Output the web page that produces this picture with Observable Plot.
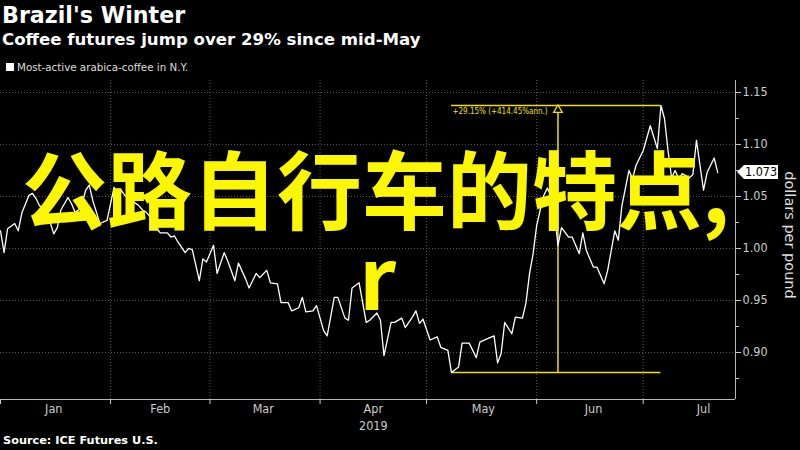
<!DOCTYPE html>
<html><head><meta charset="utf-8">
<script src="https://cdn.jsdelivr.net/npm/d3@7"></script>
<script src="https://cdn.jsdelivr.net/npm/@observablehq/plot@0.6"></script>
<style>
html,body{margin:0;padding:0;background:#000;}
body{width:800px;height:450px;overflow:hidden;position:relative;font-family:"DejaVu Sans",sans-serif;color:#fff}
#title{position:absolute;left:2px;top:2px;font-weight:bold;font-size:22.2px;line-height:26px;white-space:nowrap}
#subtitle{position:absolute;left:2px;top:30px;font-weight:bold;font-size:16.6px;line-height:20px;white-space:nowrap}
#legend{position:absolute;left:6px;top:60px;font-family:"DejaVu Sans",sans-serif;font-size:10.3px;line-height:14px;color:#ddd;white-space:nowrap}
#legend .sw{display:inline-block;width:8px;height:8px;background:#fff;margin-right:3px;vertical-align:-0px}
#chart{position:absolute;left:0;top:80px}
#source{position:absolute;left:3px;top:434px;font-family:"DejaVu Sans",sans-serif;font-weight:bold;font-size:11.3px;line-height:14px;color:#fff;white-space:nowrap}
#overlay{position:absolute;left:0;top:0;pointer-events:none}
</style></head><body>
<div id="title">Brazil's Winter</div>
<div id="subtitle">Coffee futures jump over 29% since mid-May</div>
<div id="legend"><span class="sw"></span>Most-active arabica-coffee in N.Y.</div>
<div id="chart"></div>
<div id="source">Source: ICE Futures U.S.</div>
<svg id="overlay" width="800" height="450">
  <text x="22" y="223" font-family="'Noto Sans CJK SC',sans-serif" font-weight="bold" font-size="85" fill="#fbf700">公路自行车的特点,</text>
  <text x="359" y="310" font-family="'Noto Sans CJK SC',sans-serif" font-weight="bold" font-size="85" fill="#fbf700">r</text>
</svg>
<script>
// ---- data ----
const dates = ["2019-01-01","2019-01-02","2019-01-03","2019-01-05","2019-01-06","2019-01-07","2019-01-09","2019-01-10","2019-01-11","2019-01-12","2019-01-14","2019-01-15","2019-01-16","2019-01-17","2019-01-18","2019-01-20","2019-01-21","2019-01-22","2019-01-23","2019-01-24","2019-01-25","2019-01-26","2019-01-27","2019-01-29","2019-01-31",
"2019-02-01","2019-02-02","2019-02-03","2019-02-04","2019-02-05","2019-02-07","2019-02-09","2019-02-10","2019-02-11","2019-02-13","2019-02-14","2019-02-15","2019-02-17","2019-02-18","2019-02-19","2019-02-20","2019-02-22","2019-02-23","2019-02-24","2019-02-26","2019-02-27","2019-02-28",
"2019-03-02","2019-03-03","2019-03-05","2019-03-06","2019-03-08","2019-03-09","2019-03-11","2019-03-12","2019-03-14","2019-03-15","2019-03-17","2019-03-18","2019-03-20","2019-03-21","2019-03-23","2019-03-24","2019-03-26","2019-03-27","2019-03-28","2019-03-30","2019-03-31",
"2019-04-02","2019-04-03","2019-04-05","2019-04-06","2019-04-08","2019-04-09","2019-04-10","2019-04-12","2019-04-14","2019-04-15","2019-04-17","2019-04-18","2019-04-19","2019-04-21","2019-04-22","2019-04-24","2019-04-25","2019-04-27","2019-04-28","2019-04-29","2019-04-30",
"2019-05-02","2019-05-04","2019-05-05","2019-05-07","2019-05-08","2019-05-10","2019-05-11","2019-05-13","2019-05-15","2019-05-16","2019-05-18","2019-05-20","2019-05-21","2019-05-22","2019-05-23","2019-05-25","2019-05-26","2019-05-28","2019-05-29","2019-05-30","2019-05-31",
"2019-06-01","2019-06-02","2019-06-03","2019-06-04","2019-06-05","2019-06-06","2019-06-07","2019-06-08","2019-06-10","2019-06-11","2019-06-13","2019-06-14","2019-06-15","2019-06-17","2019-06-18","2019-06-20","2019-06-21","2019-06-23","2019-06-24","2019-06-25","2019-06-27","2019-06-28","2019-06-29",
"2019-07-01","2019-07-02","2019-07-03","2019-07-05","2019-07-06","2019-07-07","2019-07-08","2019-07-09","2019-07-10","2019-07-11","2019-07-12","2019-07-14","2019-07-15","2019-07-16","2019-07-18","2019-07-19","2019-07-21","2019-07-22"];
const prices = [1.017,0.996,1.019,1.024,1.017,1.034,1.051,1.053,1.048,1.041,1.038,1.025,1.014,1.020,1.037,1.049,1.043,1.035,1.037,1.044,1.056,1.061,1.046,1.024,1.027,
1.043,1.059,1.043,1.056,1.051,1.046,1.041,1.037,1.035,1.027,1.019,1.015,1.015,1.011,1.012,1.006,0.996,1.000,0.999,0.969,0.990,0.987,
1.003,0.976,0.996,0.988,0.969,0.986,0.971,0.962,0.976,0.972,0.979,0.967,0.966,0.948,0.948,0.940,0.943,0.953,0.939,0.940,0.945,
0.921,0.916,0.953,0.953,0.933,0.931,0.962,0.967,0.929,0.931,0.938,0.931,0.897,0.929,0.929,0.933,0.924,0.934,0.940,0.928,0.932,
0.912,0.915,0.905,0.902,0.8808,0.886,0.909,0.909,0.895,0.910,0.913,0.916,0.890,0.899,0.929,0.918,0.934,0.933,0.948,0.976,0.995,
1.022,1.037,1.051,1.058,1.051,1.035,1.003,1.020,1.011,1.011,0.995,1.015,0.998,0.982,0.982,0.966,0.979,1.017,1.008,1.041,1.075,1.067,1.080,
1.094,1.106,1.118,1.096,1.1375,1.125,1.094,1.068,1.075,1.067,1.072,1.068,1.071,1.104,1.056,1.073,1.087,1.073];

const yTicks = [0.90, 0.95, 1.00, 1.05, 1.10, 1.15];
const yMinorTicks = [0.875, 0.925, 0.975, 1.025, 1.075, 1.125];
const monthStarts = ["2019-01-01","2019-02-01","2019-03-01","2019-04-01","2019-05-01","2019-06-01","2019-07-01"];
const monthLabelDates = ["2019-01-16","2019-02-15","2019-03-16","2019-04-16","2019-05-17","2019-06-17","2019-07-18"];
const yearLabel = {date: "2019-04-16", text: "2019"};
const xDomain = ["2019-01-01", "2019-07-27"];
const yDomain = [0.8548, 1.1615];
const lowPoint = {date: "2019-05-08", value: 0.8808};
const highPoint = {date: "2019-07-06", value: 1.1375};
const markerDate = "2019-06-07";
const changeLabel = "+29.15% (+414.45%ann.)";
const yLabel = "dollars per pound";

// ---- build ----
const P = d => new Date(d + "T00:00:00Z");
const series = dates.map((d, i) => ({date: P(d), value: prices[i]}));
const yellow = "#f2e000";
const gridColor = "#5a5a5a";
const axisColor = "#b8b8b8";
const tickFont = "'Liberation Sans Narrow','DejaVu Sans Condensed',sans-serif";
const xEnd = P(xDomain[1]);

const chart = Plot.plot({
  width: 800,
  height: 352,
  marginLeft: 0,
  marginRight: 65,
  marginTop: 0,
  marginBottom: 33,
  style: {background: "#000", color: "#ccc", fontFamily: tickFont, overflow: "visible"},
  x: {type: "utc", domain: xDomain.map(P)},
  y: {domain: yDomain},
  marks: [
    Plot.gridY(yTicks, {stroke: gridColor, strokeOpacity: 1, strokeDasharray: "1,2"}),
    Plot.gridX(monthStarts.slice(1).map(P), {stroke: gridColor, strokeOpacity: 1, strokeDasharray: "1,2"}),
    Plot.ruleX([xEnd], {stroke: axisColor, strokeWidth: 1}),
    Plot.ruleY([yDomain[0]], {stroke: axisColor, strokeWidth: 1}),
    Plot.axisY({anchor: "right", ticks: yTicks, tickFormat: ".2f", tickSize: 5, tickPadding: 2, fontSize: 12.5, color: "#ccc", label: null}),
    Plot.axisY({anchor: "right", ticks: yMinorTicks, tickFormat: () => "", tickSize: 3, color: "#ccc", label: null}),
    Plot.axisX({ticks: monthStarts.map(P), tickFormat: () => "", tickSize: 5, color: "#ccc", label: null}),
    Plot.axisX({ticks: monthLabelDates.map(P), tickFormat: d3.utcFormat("%b"), tickSize: 0, tickPadding: 5, fontSize: 12.5, color: "#ccc", label: null}),
    Plot.text([yearLabel], {x: d => P(d.date), frameAnchor: "bottom", text: "text", lineAnchor: "bottom", dy: 30, fontSize: 12.5, fill: "#ccc"}),
    Plot.text([yLabel], {frameAnchor: "right", text: d => d, rotate: 90, textAnchor: "middle", dx: 54, dy: -5, fontSize: 14.5, fill: "#ddd", fontFamily: "'DejaVu Sans',sans-serif"}),
    // annotation
    Plot.ruleY([highPoint, lowPoint], {y: "value", x1: P(lowPoint.date), x2: P(highPoint.date), stroke: yellow, strokeWidth: 1.5}),
    Plot.ruleX([markerDate], {x: d => P(d), y1: lowPoint.value, y2: highPoint.value, stroke: yellow, strokeWidth: 1.5}),
    Plot.dot([markerDate], {x: d => P(d), y: highPoint.value, symbol: "triangle", r: 3.2, stroke: yellow, fill: "#000", strokeWidth: 1.3, dy: 4.5}),
    Plot.text([changeLabel], {x: P(lowPoint.date), y: highPoint.value, text: d => d, textAnchor: "start", lineAnchor: "top", dx: 1, dy: 3, fontSize: 8, fill: yellow, fontFamily: "'DejaVu Sans Condensed','DejaVu Sans',sans-serif"}),
    // price line
    Plot.lineY(series, {x: "date", y: "value", stroke: "#fff", strokeWidth: 1.3})
  ]
});
document.getElementById("chart").appendChild(chart);

// last-value tag on the right axis, positioned through the chart's scales
const last = series[series.length - 1];
const ty = chart.scale("y").apply(last.value);
const tx = chart.scale("x").apply(xEnd);
const g = d3.select(chart).append("g");
g.append("path")
  .attr("d", `M${tx + 2},${ty} L${tx + 9},${ty - 7} H${tx + 43} V${ty + 7} H${tx + 9} Z`)
  .attr("fill", "#fff");
g.append("text")
  .attr("x", tx + 26).attr("y", ty).attr("dy", "0.35em")
  .attr("text-anchor", "middle").attr("font-size", 12.5).attr("fill", "#000")
  .attr("font-family", tickFont)
  .text(d3.format(".3f")(last.value));
</script>
</body></html>
